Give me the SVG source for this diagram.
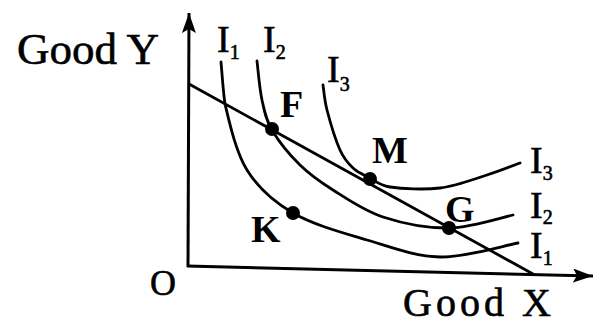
<svg xmlns="http://www.w3.org/2000/svg" width="600" height="326" viewBox="0 0 600 326">
<style>
.ax{stroke:#000;stroke-width:3;fill:none}
.cv{stroke:#000;stroke-width:2.8;fill:none;stroke-linecap:round}
.lbl{font-family:"Liberation Serif","Times New Roman",serif;fill:#000;stroke:#000;stroke-width:0.6}
.pt{font-family:"Liberation Serif","Times New Roman",serif;font-weight:bold;font-size:38px;fill:#000}
.ind{font-size:38px}
.sub{font-size:20px}
</style>
<defs>
<marker id="arr" markerUnits="userSpaceOnUse" viewBox="0 0 20 14" refX="20" refY="7" markerWidth="20" markerHeight="14" orient="auto">
<path d="M0,0 L20,7 L0,14 L4,7 z" fill="#000"/>
</marker>
</defs>
<rect width="600" height="326" fill="#fff"/>
<g id="axes">
<line class="ax" x1="188" y1="267" x2="189" y2="13" marker-end="url(#arr)"/>
<line class="ax" x1="187" y1="266" x2="593" y2="276" marker-end="url(#arr)"/>
<text class="lbl" x="17" y="64" font-size="45">Good Y</text>
<text class="lbl" x="403" y="316" font-size="40" textLength="148">Good X</text>
<text class="lbl" x="150" y="295" font-size="36">O</text>
</g>
<g id="connectors">
<line id="budget" class="cv" x1="189" y1="84" x2="533" y2="274"/>
<path id="I1" class="cv" d="M221,62 C221.7,69 223,90 225,104 C229.3,122 235.7,151.8 247,170 C258.3,188.2 273,201.3 293,213 C313,224.7 342.5,232.7 367,240 C391.5,247.3 414.8,256.5 440,257 C465.2,257.5 505,245.3 518,243"/>
<path id="I2" class="cv" d="M257,61 C257.8,67.5 259.5,88.5 262,100 C264.5,111.5 265.7,119.2 272,130 C278.3,140.8 289.8,155 300,165 C310.2,175 319.2,181.3 333,190 C346.8,198.7 363.7,210.7 383,217 C402.3,223.3 427.3,228.3 449,228 C470.7,227.7 502.3,217.2 513,215"/>
<path id="I3" class="cv" d="M323,85 C323.7,89.2 324.2,99.2 327,110 C329.8,120.8 335.7,140.3 340,150 C344.3,159.7 348,163.3 353,168 C358,172.7 363.8,174.8 370,178 C376.2,181.2 378.3,185.3 390,187 C401.7,188.7 423.8,190 440,188 C456.2,186 473.7,179.2 487,175 C500.3,170.8 514.5,165 520,163"/>
</g>
<g id="curve-labels" class="lbl">
<text x="217" y="52" class="ind">I<tspan class="sub" dy="7">1</tspan></text>
<text x="263" y="52" class="ind">I<tspan class="sub" dy="7">2</tspan></text>
<text x="327" y="82" class="ind">I<tspan class="sub" dy="9">3</tspan></text>
<text x="530" y="173" class="ind">I<tspan class="sub" dy="7">3</tspan></text>
<text x="530" y="218" class="ind">I<tspan class="sub" dy="6">2</tspan></text>
<text x="530" y="258" class="ind">I<tspan class="sub" dy="7">1</tspan></text>
</g>
<g id="F"><circle cx="272" cy="129" r="7"/><text class="pt" x="280" y="117">F</text></g>
<g id="M"><circle cx="370" cy="179" r="7"/><text class="pt" x="372" y="163">M</text></g>
<g id="G"><circle cx="449" cy="228" r="7"/><text class="pt" x="445" y="222">G</text></g>
<g id="K"><circle cx="293" cy="213" r="7"/><text class="pt" x="251" y="242">K</text></g>
</svg>
